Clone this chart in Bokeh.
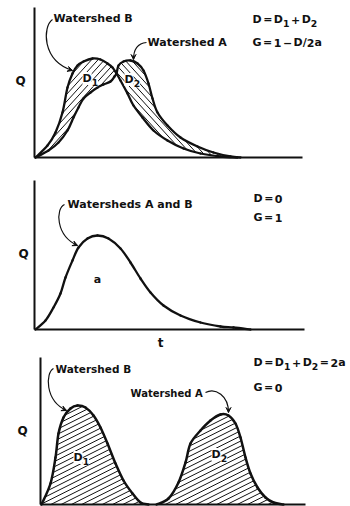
import numpy as np
from bokeh.plotting import figure
from bokeh.layouts import column
from bokeh.models import LinearAxis, Range1d, FixedTicker, Arrow, VeeHead
from bokeh.core.properties import value
from bokeh.embed import file_html
from bokeh.resources import INLINE

FONT = "DejaVu Sans"
INK = "#111111"
WIDTH = 350

# ---- Panel 1: hydrographs of watersheds A and B, partly offset in time
p1_b_t = [1, 13, 21, 28, 33, 38, 43, 49, 58, 66, 73, 78, 82, 86, 93, 99, 108, 119, 133, 149, 166, 186, 203]
p1_b_q = [0, 12, 25, 45, 70, 84, 92, 96, 99, 98, 94, 90, 84, 77, 64, 52, 40, 27, 17, 9, 4, 1, 0]
p1_a_t = [1, 14, 24, 33, 39, 44, 49, 56, 63, 69, 76, 80, 82, 84, 89, 96, 103, 109, 114, 118, 123, 133, 146, 163, 179, 196, 206]
p1_a_q = [0, 7, 15, 27, 40, 50, 59, 65, 70, 73, 76, 81, 84, 92, 96, 97, 94, 87, 74, 59, 45, 32, 20, 11, 5, 1, 0]
p1_cross = 12  # index where the two hydrographs intersect

# ---- Panel 2: identical hydrographs (complete overlap)
p2_t = [1, 11, 19, 26, 31, 38, 44, 53, 63, 74, 86, 96, 106, 116, 129, 146, 166, 186, 199, 216]
p2_q = [0, 9, 22, 36, 52, 69, 82, 91, 94, 91, 81, 67, 51, 37, 24, 14, 7, 3, 2, 0]

# ---- Panel 3: hydrographs fully separated in time
p3_b_t = [1, 10, 15, 18, 23, 30, 37, 45, 53, 60, 67, 75, 83, 92, 100, 108]
p3_b_q = [0, 21, 47, 71, 87, 96, 99, 97, 89, 77, 61, 41, 24, 11, 2, 0]
p3_a_t = [116, 128, 138, 145, 150, 160, 170, 180, 188, 195, 200, 205, 210, 217, 225, 233, 243]
p3_a_q = [0, 6, 22, 42, 61, 74, 84, 90, 89, 81, 67, 47, 31, 17, 7, 2, 0]

# approximate advance widths (em) of DejaVu Sans Bold, for laying out formulas
ADV = {"D": .830, "=": .838, "+": .838, "\u2212": .838, "1": .696, "2": .696,
       "0": .696, "G": .821, "/": .365, "a": .675}


def panel(height, x0, y0):
    """Figure whose data units are screen pixels, origin at the axes corner."""
    p = figure(width=WIDTH, height=height,
               x_range=Range1d(-x0, WIDTH - x0), y_range=Range1d(y0 - height, y0),
               x_axis_type=None, y_axis_type=None, toolbar_location=None,
               output_backend="svg", min_border=0, outline_line_color=None,
               background_fill_color="white", border_fill_color="white")
    return p


def axes(p, t_end, q_top):
    common = dict(ticker=FixedTicker(ticks=[]), major_tick_line_color=None,
                  minor_tick_line_color=None, major_label_text_font_size="0px",
                  axis_line_color=INK, axis_line_width=2, fixed_location=0)
    p.add_layout(LinearAxis(bounds=(0, q_top), **common), "left")
    p.add_layout(LinearAxis(bounds=(0, t_end), **common), "below")


def catmull(t, q):
    """Bezier control points of a Catmull-Rom curve through the points."""
    P = np.column_stack([t, q]).astype(float)
    Pm = np.vstack([P[:1], P[:-1]])
    Pp = np.vstack([P[1:], P[-1:]])
    Ppp = np.vstack([P[2:], P[-1:], P[-1:]])
    a, b = P[:-1], P[1:]
    c0 = a + (Pp[:-1] - Pm[:-1]) / 6.0
    c1 = b - (Ppp[:-1] - a) / 6.0
    return a, c0, c1, b


def sample(t, q, k=12):
    a, c0, c1, b = catmull(t, q)
    u = np.linspace(0, 1, k, endpoint=False)[:, None, None]
    pts = ((1 - u) ** 3 * a + 3 * (1 - u) ** 2 * u * c0 + 3 * (1 - u) * u ** 2 * c1 + u ** 3 * b)
    pts = pts.transpose(1, 0, 2).reshape(-1, 2)
    return np.vstack([pts, [[t[-1], q[-1]]]])


def curve(p, t, q, width=2.3):
    a, c0, c1, b = catmull(t, q)
    p.bezier(x0=a[:, 0], y0=a[:, 1], x1=b[:, 0], y1=b[:, 1],
             cx0=c0[:, 0], cy0=c0[:, 1], cx1=c1[:, 0], cy1=c1[:, 1],
             line_color=INK, line_width=width, line_cap="round")


def hatch(p, poly, slope, spacing, width=1.0):
    xs, ys = poly[:, 0], poly[:, 1]
    x2, y2 = np.roll(xs, -1), np.roll(ys, -1)
    cvals = ys - slope * xs
    step = spacing * np.sqrt(1 + slope ** 2)
    seg_x, seg_y = [], []
    for c in np.arange(cvals.min() + step / 2, cvals.max(), step):
        f1 = ys - slope * xs - c
        f2 = y2 - slope * x2 - c
        m = (f1 > 0) != (f2 > 0)
        u = f1[m] / (f1[m] - f2[m])
        xi = np.sort(xs[m] + u * (x2[m] - xs[m]))
        for xa, xb in zip(xi[0::2], xi[1::2]):
            seg_x.append([xa, xb])
            seg_y.append([slope * xa + c, slope * xb + c])
    p.multi_line(seg_x, seg_y, line_color=INK, line_width=width)


def put(p, t, q, s, size=11, align="left", bg=None):
    kw = {"background_fill_color": bg} if bg else {}
    p.text(x=[t], y=[q], text=[s], text_font=value(FONT), text_font_size=f"{size}px",
           text_font_style="bold", text_align=align, text_baseline="middle",
           text_color=INK, **kw)


def rich(p, t, q, markup, size=11, gap=1.5, bg=None):
    """Formula text; '_' lowers the next character as a subscript."""
    x, sub = t, False
    for ch in markup:
        if ch == " ":
            x += gap
        elif ch == "_":
            sub = True
        elif sub:
            s = round(size * 0.85, 1)
            put(p, x, q - size * 0.38, ch, size=s, bg=bg)
            x += ADV[ch] * s
            sub = False
        else:
            put(p, x, q, ch, size=size, bg=bg)
            x += ADV[ch] * size


def leader(p, P0, C0, C1, P1):
    p.bezier(x0=[P0[0]], y0=[P0[1]], x1=[P1[0]], y1=[P1[1]], cx0=[C0[0]], cy0=[C0[1]],
             cx1=[C1[0]], cy1=[C1[1]], line_color=INK, line_width=1.2)
    d = np.array(P1, float) - np.array(C1, float)
    d /= np.hypot(*d)
    p.add_layout(Arrow(end=VeeHead(size=5, line_color=INK, line_width=1, fill_color=INK),
                       x_start=P1[0] - 2 * d[0], y_start=P1[1] - 2 * d[1],
                       x_end=P1[0], y_end=P1[1], line_color=INK, line_width=1.2))


# ---------------- Panel 1 ----------------
p1 = panel(170, 34, 157)
k = 12
sb = sample(p1_b_t, p1_b_q, k)
sa = sample(p1_a_t, p1_a_q, k)
ic = p1_cross * k
hatch(p1, np.vstack([sb[:ic + 1], sa[:ic + 1][::-1]]), 1.1, 4.8)
hatch(p1, np.vstack([sa[ic:], sb[ic:][::-1]]), -1.1, 4.8)
curve(p1, p1_b_t, p1_b_q)
curve(p1, p1_a_t, p1_a_q)
axes(p1, 268, 150)
put(p1, -14, 77, "Q", size=12, align="center")
rich(p1, 48, 79, "D_1", bg="white")
rich(p1, 90, 78, "D_2", bg="white")
put(p1, 19, 139, "Watershed B")
leader(p1, (18, 138), (8, 131), (7, 97), (38, 87))
put(p1, 113, 115, "Watershed A")
leader(p1, (112, 115), (102, 114), (99, 107), (99, 98))
rich(p1, 218, 138, "D = D_1 + D_2")
rich(p1, 218, 115, "G = 1 \u2212 D/2a")

# ---------------- Panel 2 ----------------
p2 = panel(180, 34, 159)
curve(p2, p2_t, p2_q)
axes(p2, 270, 149)
put(p2, -11, 76, "Q", size=12, align="center")
put(p2, 126, -13, "t", size=12, align="center")
put(p2, 63, 50, "a", align="center")
put(p2, 33, 125, "Watersheds A and B")
leader(p2, (30, 125), (21, 121), (21, 94), (43, 84))
rich(p2, 219, 131, "D = 0")
rich(p2, 219, 112, "G = 1")

# ---------------- Panel 3 ----------------
p3 = panel(156, 40, 154)
hatch(p3, sample(p3_b_t, p3_b_q), 0.5, 4.6)
hatch(p3, sample(p3_a_t, p3_a_q), 0.5, 4.6)
curve(p3, p3_b_t, p3_b_q, width=2.5)
curve(p3, p3_a_t, p3_a_q, width=2.5)
axes(p3, 265, 147)
put(p3, -18, 74, "Q", size=12, align="center")
rich(p3, 33, 47, "D_1", bg="white")
rich(p3, 171, 50, "D_2", bg="white")
put(p3, 15, 136, "Watershed B", size=10.5)
leader(p3, (13, 136), (5, 132), (4, 104), (26, 94))
put(p3, 90, 111, "Watershed A", size=10)
leader(p3, (165, 112), (175, 117), (188, 109), (188, 92))
rich(p3, 213, 142, "D = D_1 + D_2 = 2a")
rich(p3, 213, 117, "G = 0")

layout = column(p1, p2, p3, spacing=0)
open("out.html", "w").write(file_html(layout, INLINE))
